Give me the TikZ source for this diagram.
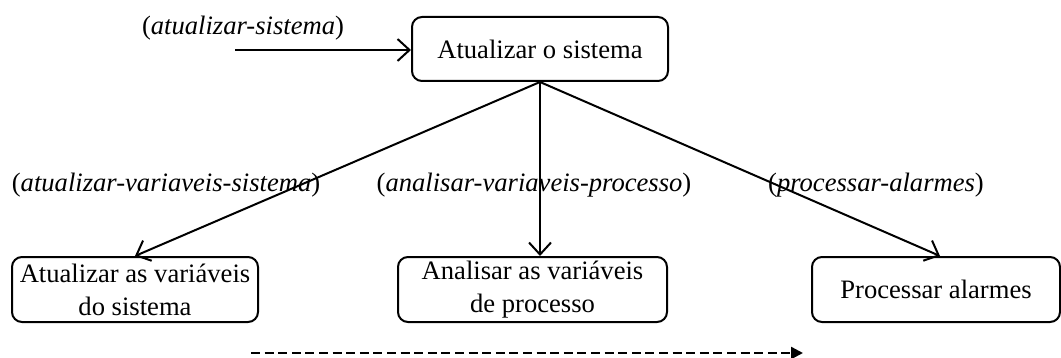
\documentclass[tikz,border=0pt]{standalone}
\usepackage{fontspec}
\setmainfont{Liberation Serif}
\usetikzlibrary{arrows.meta}
\begin{document}
\begin{tikzpicture}[x=0.5pt,y=-0.5pt,
  every node/.style={font=\fontsize{13.3}{16.5}\selectfont},
  box/.style={draw,line width=1pt,rounded corners=5pt,align=center,inner sep=0pt},
  lbl/.style={inner sep=0pt,font=\fontsize{13.3}{16.5}\selectfont\itshape},
  conn/.style={line width=1pt,-{Straight Barb[length=6pt,width=11pt,line width=1pt]}},
  dconn/.style={line width=1.2pt,dash pattern=on 4.5pt off 2.3pt,-{Triangle[length=6pt,width=6pt]}}]
\useasboundingbox (0,0) rectangle (1061,358);
\node[box,minimum width=128pt,minimum height=32pt] (top) at (540,49) {Atualizar o sistema};
\node[box,minimum width=123pt,minimum height=32.5pt] (n1) at (135,289.5) {Atualizar as variáveis\\do sistema};
\node[box,minimum width=134.5pt,minimum height=32.5pt] (n2) at (532.5,289.5) {Analisar as variáveis\\de processo};
\node[box,minimum width=124pt,minimum height=32.5pt] (n3) at (936,289.5) {Processar alarmes};
\coordinate (in) at (235,50);
\node[lbl] (l0) at (243,28) {\upshape(\itshape atualizar-sistema\/\upshape)};
\node[lbl] (l1) at (166,185) {\upshape(\itshape atualizar-variaveis-sistema\/\upshape)};
\node[lbl] (l2) at (534,185) {\upshape(\itshape analisar-variaveis-processo\/\upshape)};
\node[lbl] (l3) at (876,185) {\upshape(\itshape processar-alarmes\/\upshape)};
\draw[conn] (in) -- (in -| top.west);
\draw[conn] (top.south) -- (n1.north);
\draw[conn] (top.south) -- (top.south |- n2.north);
\draw[conn] (top.south) -- ([xshift=2pt]n3.north);
\coordinate (d0) at (251,353);
\coordinate (d1) at (803,353);
\draw[dconn] (d0) -- (d1);
\end{tikzpicture}
\end{document}
